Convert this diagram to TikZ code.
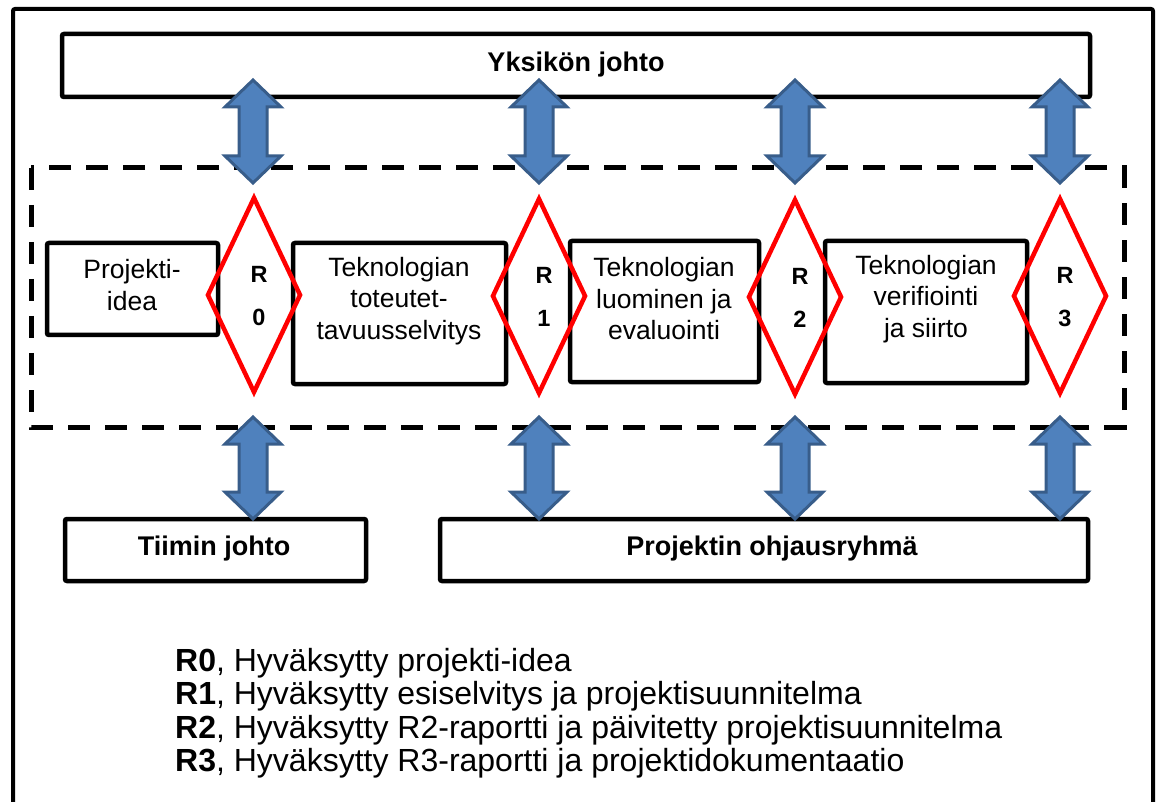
\documentclass[tikz,border=0pt]{standalone}
\usepackage{fontspec}
\setmainfont{Liberation Sans}
\usetikzlibrary{shapes.geometric,calc}
\definecolor{arrowfill}{HTML}{4F81BD}
\definecolor{arrowline}{HTML}{385D8A}
\definecolor{gatered}{HTML}{FF0000}

% vertical two-headed block arrow between two named points
\newcommand\dblarrow[2]{%
  \filldraw[blockarrow] let \p1=(#1), \p2=(#2) in
    (\p1) -- (\x1+28pt,\y1-27pt) -- (\x1+14pt,\y1-27pt) -- (\x1+14pt,\y2+27pt)
    -- (\x1+28pt,\y2+27pt) -- (\p2) -- (\x1-28pt,\y2+27pt) -- (\x1-14pt,\y2+27pt)
    -- (\x1-14pt,\y1-27pt) -- (\x1-28pt,\y1-27pt) -- cycle;}

\begin{document}
\begin{tikzpicture}[x=1pt,y=-1pt,
  box/.style={draw=black, line width=4.5pt, rounded corners=2pt, inner sep=0pt, outer sep=0pt},
  gate/.style={diamond, draw=gatered, line width=4.5pt, inner sep=0pt, minimum width=94pt, minimum height=196pt},
  boxtext/.style={align=center, inner sep=0pt, font=\fontsize{26.5}{31.5}\selectfont},
  gatetext/.style={align=center, inner sep=0pt, font=\bfseries\fontsize{23.5}{43}\selectfont},
  titletext/.style={inner sep=0pt, font=\bfseries\fontsize{27}{32}\selectfont},
  legendtext/.style={anchor=base west, inner sep=0pt, font=\fontsize{32}{34}\selectfont},
  blockarrow/.style={fill=arrowfill, draw=arrowline, line width=3pt, line join=miter},
  phase/.style={draw=black, line width=5pt, dash pattern=on 22pt off 15pt}]
\useasboundingbox (0,0) rectangle (1157,802);

% outer frame
\draw[line width=4pt, rounded corners=2pt] (13,9) rectangle (1153,830);

% dashed phase area
\draw[phase] (31,168) rectangle (1124,427);

% management boxes
\node[box, minimum width=1028pt, minimum height=63pt] (yks) at (576,65.5) {};
\node[titletext] (yksT) at (576,65) {Yksikön johto};
\node[box, minimum width=301pt, minimum height=62pt] (tiimi) at (215.5,550) {};
\node[titletext] (tiimiT) at (214,549) {Tiimin johto};
\node[box, minimum width=648pt, minimum height=62pt] (ohj) at (764,550) {};
\node[titletext] (ohjT) at (772,549) {Projektin ohjausryhmä};

% phase boxes
\node[box, minimum width=171pt, minimum height=92pt] (p1) at (132.5,289) {};
\node[boxtext] (p1T) at (132,285) {Projekti-\\idea};
\node[box, minimum width=213pt, minimum height=141pt] (p2) at (399.5,313.5) {};
\node[boxtext] (p2T) at (399,301) {Teknologian\\toteutet-\\tavuusselvitys};
\node[box, minimum width=189pt, minimum height=141pt] (p3) at (664.5,311.5) {};
\node[boxtext] (p3T) at (664,299) {Teknologian\\luominen ja\\evaluointi};
\node[box, minimum width=202pt, minimum height=142pt] (p4) at (926,312) {};
\node[boxtext] (p4T) at (926,299) {Teknologian\\verifiointi\\ja siirto};

% decision gates
\node[gate] (r0) at (254,295) {};
\node[gatetext] (r0T) at (259,296) {R\\0};
\node[gate] (r1) at (539,296) {};
\node[gatetext] (r1T) at (544,297) {R\\1};
\node[gate] (r2) at (795,297) {};
\node[gatetext] (r2T) at (800,298) {R\\2};
\node[gate] (r3) at (1060,296) {};
\node[gatetext] (r3T) at (1065,297) {R\\3};

% arrow end points
\coordinate (u0) at (253,80);   \coordinate (d0) at (253,183);
\coordinate (u1) at (539,80);   \coordinate (d1) at (539,183);
\coordinate (u2) at (795,80);   \coordinate (d2) at (795,183);
\coordinate (u3) at (1060,80);  \coordinate (d3) at (1060,183);
\coordinate (s0) at (253,417);  \coordinate (b0) at (253,519);
\coordinate (s1) at (539,417);  \coordinate (b1) at (539,519);
\coordinate (s2) at (795,417);  \coordinate (b2) at (795,519);
\coordinate (s3) at (1060,417); \coordinate (b3) at (1060,519);

\dblarrow{u0}{d0}\dblarrow{u1}{d1}\dblarrow{u2}{d2}\dblarrow{u3}{d3}
\dblarrow{s0}{b0}\dblarrow{s1}{b1}\dblarrow{s2}{b2}\dblarrow{s3}{b3}

% legend
\node[legendtext] (l0) at (175,671) {\textbf{R0}, Hyväksytty projekti-idea};
\node[legendtext] (l1) at (175,704) {\textbf{R1}, Hyväksytty esiselvitys ja projektisuunnitelma};
\node[legendtext] (l2) at (175,738) {\textbf{R2}, Hyväksytty R2-raportti ja päivitetty projektisuunnitelma};
\node[legendtext] (l3) at (175,771) {\textbf{R3}, Hyväksytty R3-raportti ja projektidokumentaatio};
\end{tikzpicture}
\end{document}
